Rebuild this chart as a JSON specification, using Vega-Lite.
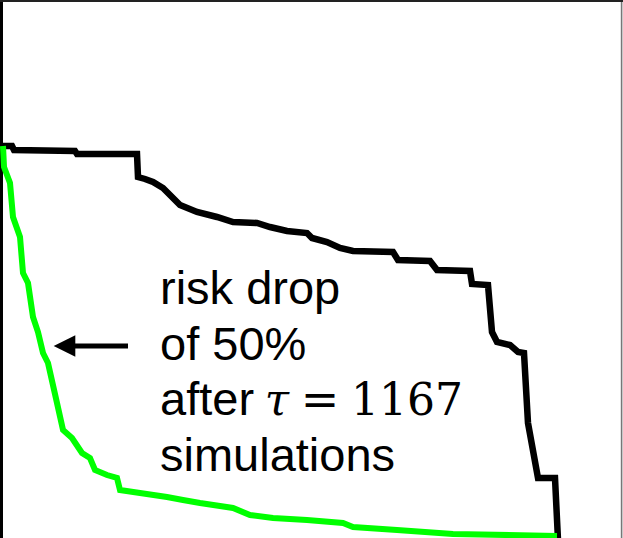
{
  "$schema": "https://vega.github.io/schema/vega-lite/v6.json",
  "width": 623,
  "height": 538,
  "autosize": "none",
  "padding": 0,
  "background": "white",
  "config": {"view": {"stroke": null}},
  "datasets": {
    "curves": [
      {"series": "baseline", "t": 0, "risk": 392},
      {"series": "baseline", "t": 12, "risk": 392},
      {"series": "baseline", "t": 14, "risk": 388},
      {"series": "baseline", "t": 75, "risk": 387},
      {"series": "baseline", "t": 77, "risk": 384},
      {"series": "baseline", "t": 137, "risk": 384},
      {"series": "baseline", "t": 138, "risk": 361},
      {"series": "baseline", "t": 145, "risk": 359},
      {"series": "baseline", "t": 153, "risk": 356},
      {"series": "baseline", "t": 163, "risk": 350},
      {"series": "baseline", "t": 170, "risk": 343},
      {"series": "baseline", "t": 180, "risk": 333},
      {"series": "baseline", "t": 197, "risk": 326},
      {"series": "baseline", "t": 217, "risk": 321},
      {"series": "baseline", "t": 233, "risk": 316},
      {"series": "baseline", "t": 257, "risk": 315},
      {"series": "baseline", "t": 270, "risk": 311},
      {"series": "baseline", "t": 287, "risk": 307},
      {"series": "baseline", "t": 307, "risk": 305},
      {"series": "baseline", "t": 312, "risk": 300},
      {"series": "baseline", "t": 327, "risk": 296},
      {"series": "baseline", "t": 340, "risk": 290},
      {"series": "baseline", "t": 353, "risk": 287},
      {"series": "baseline", "t": 393, "risk": 286},
      {"series": "baseline", "t": 398, "risk": 278},
      {"series": "baseline", "t": 430, "risk": 277},
      {"series": "baseline", "t": 437, "risk": 268},
      {"series": "baseline", "t": 470, "risk": 267},
      {"series": "baseline", "t": 472, "risk": 254},
      {"series": "baseline", "t": 488, "risk": 253},
      {"series": "baseline", "t": 492, "risk": 206},
      {"series": "baseline", "t": 497, "risk": 196},
      {"series": "baseline", "t": 510, "risk": 193},
      {"series": "baseline", "t": 518, "risk": 186},
      {"series": "baseline", "t": 524, "risk": 185},
      {"series": "baseline", "t": 528, "risk": 115},
      {"series": "baseline", "t": 538, "risk": 60},
      {"series": "baseline", "t": 555, "risk": 60},
      {"series": "baseline", "t": 558, "risk": -2},
      {"series": "adaptive", "t": 3, "risk": 392},
      {"series": "adaptive", "t": 4, "risk": 371},
      {"series": "adaptive", "t": 10, "risk": 355},
      {"series": "adaptive", "t": 13, "risk": 321},
      {"series": "adaptive", "t": 20, "risk": 301},
      {"series": "adaptive", "t": 23, "risk": 265},
      {"series": "adaptive", "t": 28, "risk": 255},
      {"series": "adaptive", "t": 33, "risk": 221},
      {"series": "adaptive", "t": 38, "risk": 206},
      {"series": "adaptive", "t": 43, "risk": 185},
      {"series": "adaptive", "t": 48, "risk": 175},
      {"series": "adaptive", "t": 57, "risk": 135},
      {"series": "adaptive", "t": 63, "risk": 108},
      {"series": "adaptive", "t": 72, "risk": 100},
      {"series": "adaptive", "t": 82, "risk": 85},
      {"series": "adaptive", "t": 90, "risk": 80},
      {"series": "adaptive", "t": 95, "risk": 68},
      {"series": "adaptive", "t": 107, "risk": 63},
      {"series": "adaptive", "t": 117, "risk": 60},
      {"series": "adaptive", "t": 120, "risk": 48},
      {"series": "adaptive", "t": 140, "risk": 45},
      {"series": "adaptive", "t": 167, "risk": 41},
      {"series": "adaptive", "t": 183, "risk": 38},
      {"series": "adaptive", "t": 200, "risk": 35},
      {"series": "adaptive", "t": 233, "risk": 30},
      {"series": "adaptive", "t": 250, "risk": 23},
      {"series": "adaptive", "t": 273, "risk": 20},
      {"series": "adaptive", "t": 307, "risk": 18},
      {"series": "adaptive", "t": 343, "risk": 15},
      {"series": "adaptive", "t": 353, "risk": 11},
      {"series": "adaptive", "t": 397, "risk": 8},
      {"series": "adaptive", "t": 453, "risk": 4},
      {"series": "adaptive", "t": 557, "risk": 2}
    ],
    "frameV": [{"t": 0, "edge": "left"}, {"t": 621.6, "edge": "right"}],
    "frameH": [{"risk": 538}],
    "sansText": [
      {"t": 160, "risk": 234, "label": "risk drop"},
      {"t": 160, "risk": 178, "label": "of 50%"},
      {"t": 160, "risk": 123, "label": "after"},
      {"t": 160, "risk": 67, "label": "simulations"}
    ],
    "tauText": [{"t": 277, "risk": 123, "label": "τ"}],
    "eqText": [{"t": 320, "risk": 123, "label": "="}],
    "numText": [{"t": 407, "risk": 123, "label": "1167"}],
    "arrowShaft": [{"t": 72, "t2": 128, "risk": 192}],
    "arrowHead": [{"t": 64.5, "risk": 192}]
  },
  "layer": [
    {
      "data": {"name": "frameV"},
      "mark": {"type": "rule"},
      "encoding": {
        "x": {"field": "t", "type": "quantitative", "scale": {"domain": [0, 623], "nice": false, "zero": false}, "axis": null},
        "color": {"field": "edge", "type": "nominal", "scale": {"domain": ["left", "right"], "range": ["#000000", "#777777"]}, "legend": null},
        "strokeWidth": {"field": "edge", "type": "nominal", "scale": {"domain": ["left", "right"], "range": [6, 1.6]}, "legend": null}
      }
    },
    {
      "data": {"name": "frameH"},
      "mark": {"type": "rule", "color": "#222222", "strokeWidth": 4},
      "encoding": {"y": {"field": "risk", "type": "quantitative", "scale": {"domain": [0, 538], "nice": false, "zero": false}, "axis": null}}
    },
    {
      "data": {"name": "curves"},
      "transform": [{"filter": "datum.series === 'baseline'"}],
      "mark": {"type": "line", "color": "black", "strokeWidth": 6.5, "strokeJoin": "miter"},
      "encoding": {
        "x": {"field": "t", "type": "quantitative", "scale": {"domain": [0, 623], "nice": false, "zero": false}, "axis": null},
        "y": {"field": "risk", "type": "quantitative", "scale": {"domain": [0, 538], "nice": false, "zero": false}, "axis": null}
      }
    },
    {
      "data": {"name": "curves"},
      "transform": [{"filter": "datum.series === 'adaptive'"}],
      "mark": {"type": "line", "color": "#00ff00", "strokeWidth": 6},
      "encoding": {
        "x": {"field": "t", "type": "quantitative", "scale": {"domain": [0, 623], "nice": false, "zero": false}, "axis": null},
        "y": {"field": "risk", "type": "quantitative", "scale": {"domain": [0, 538], "nice": false, "zero": false}, "axis": null}
      }
    },
    {
      "data": {"name": "arrowShaft"},
      "mark": {"type": "rule", "color": "black", "strokeWidth": 5},
      "encoding": {
        "x": {"field": "t", "type": "quantitative", "scale": {"domain": [0, 623], "nice": false, "zero": false}, "axis": null},
        "x2": {"field": "t2"},
        "y": {"field": "risk", "type": "quantitative", "scale": {"domain": [0, 538], "nice": false, "zero": false}, "axis": null}
      }
    },
    {
      "data": {"name": "arrowHead"},
      "mark": {"type": "point", "shape": "M -1 0 L 1 -1 L 1 1 Z", "size": 470, "filled": true, "color": "black", "opacity": 1},
      "encoding": {
        "x": {"field": "t", "type": "quantitative", "scale": {"domain": [0, 623], "nice": false, "zero": false}, "axis": null},
        "y": {"field": "risk", "type": "quantitative", "scale": {"domain": [0, 538], "nice": false, "zero": false}, "axis": null}
      }
    },
    {
      "data": {"name": "sansText"},
      "mark": {"type": "text", "font": "Liberation Sans", "fontSize": 47, "align": "left", "baseline": "alphabetic", "color": "black"},
      "encoding": {
        "x": {"field": "t", "type": "quantitative", "scale": {"domain": [0, 623], "nice": false, "zero": false}, "axis": null},
        "y": {"field": "risk", "type": "quantitative", "scale": {"domain": [0, 538], "nice": false, "zero": false}, "axis": null},
        "text": {"field": "label"}
      }
    },
    {
      "data": {"name": "tauText"},
      "mark": {"type": "text", "font": "DejaVu Serif", "fontStyle": "italic", "fontSize": 44, "align": "center", "baseline": "alphabetic", "color": "black"},
      "encoding": {
        "x": {"field": "t", "type": "quantitative", "scale": {"domain": [0, 623], "nice": false, "zero": false}, "axis": null},
        "y": {"field": "risk", "type": "quantitative", "scale": {"domain": [0, 538], "nice": false, "zero": false}, "axis": null},
        "text": {"field": "label"}
      }
    },
    {
      "data": {"name": "eqText"},
      "mark": {"type": "text", "font": "DejaVu Serif", "fontSize": 46, "align": "center", "baseline": "alphabetic", "color": "black"},
      "encoding": {
        "x": {"field": "t", "type": "quantitative", "scale": {"domain": [0, 623], "nice": false, "zero": false}, "axis": null},
        "y": {"field": "risk", "type": "quantitative", "scale": {"domain": [0, 538], "nice": false, "zero": false}, "axis": null},
        "text": {"field": "label"}
      }
    },
    {
      "data": {"name": "numText"},
      "mark": {"type": "text", "font": "DejaVu Serif", "fontSize": 44, "align": "center", "baseline": "alphabetic", "color": "black"},
      "encoding": {
        "x": {"field": "t", "type": "quantitative", "scale": {"domain": [0, 623], "nice": false, "zero": false}, "axis": null},
        "y": {"field": "risk", "type": "quantitative", "scale": {"domain": [0, 538], "nice": false, "zero": false}, "axis": null},
        "text": {"field": "label"}
      }
    }
  ]
}
